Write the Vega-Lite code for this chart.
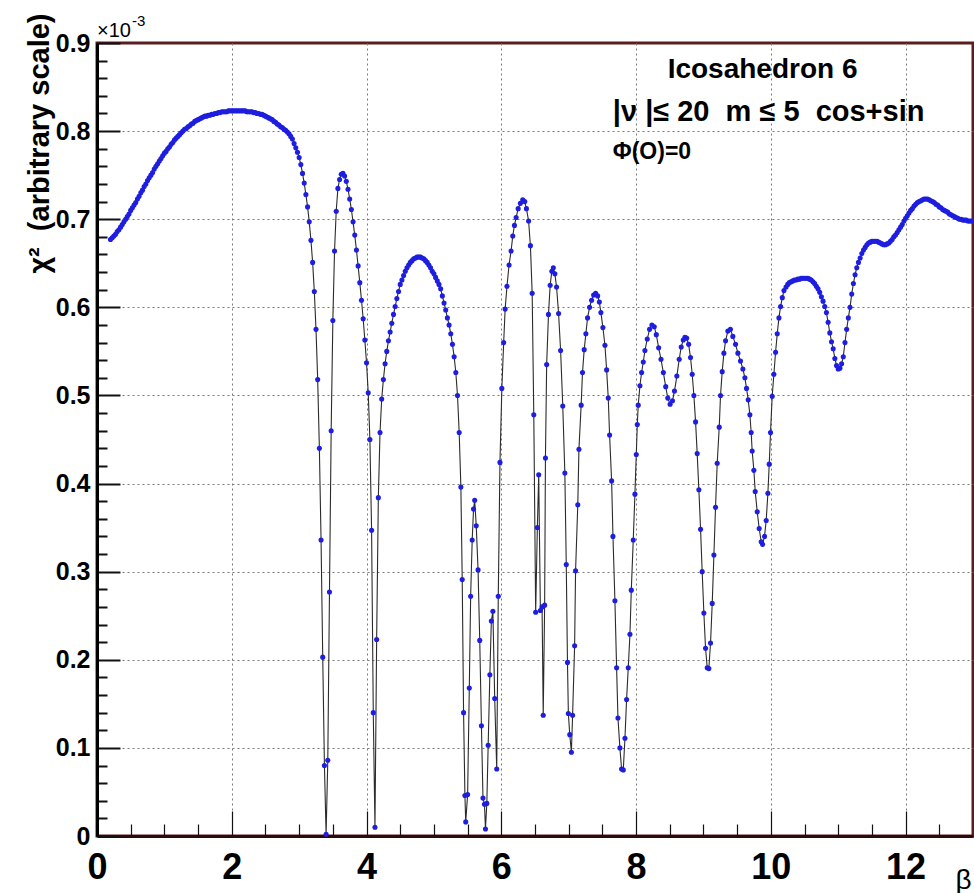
{
"$schema":"https://vega.github.io/schema/vega-lite/v6.json",
"width":876,"height":793,
"autosize":{"type":"none"},
"padding":{"left":97,"top":43,"right":1,"bottom":57},
"background":"white",
"config":{"view":{"stroke":"#5b1e1e","strokeWidth":3},"font":"Liberation Sans"},
"data":{"values":[
{"b":0.2,"c":0.677},{"b":0.225,"c":0.679},{"b":0.25,"c":0.681},{"b":0.275,"c":0.683},{"b":0.3,"c":0.686},{"b":0.325,"c":0.688},{"b":0.35,"c":0.691},{"b":0.375,"c":0.694},{"b":0.4,"c":0.697},{"b":0.425,"c":0.7},{"b":0.45,"c":0.703},{"b":0.475,"c":0.706},{"b":0.5,"c":0.71},{"b":0.525,"c":0.713},{"b":0.55,"c":0.716},{"b":0.575,"c":0.719},{"b":0.6,"c":0.723},{"b":0.625,"c":0.726},{"b":0.65,"c":0.73},{"b":0.675,"c":0.733},{"b":0.7,"c":0.737},{"b":0.725,"c":0.74},{"b":0.75,"c":0.744},{"b":0.775,"c":0.747},{"b":0.8,"c":0.75},{"b":0.825,"c":0.753},{"b":0.85,"c":0.757},{"b":0.875,"c":0.76},{"b":0.9,"c":0.763},{"b":0.925,"c":0.766},{"b":0.95,"c":0.769},{"b":0.975,"c":0.772},{"b":1.0,"c":0.775},{"b":1.025,"c":0.777},{"b":1.05,"c":0.78},{"b":1.075,"c":0.782},{"b":1.1,"c":0.785},{"b":1.125,"c":0.787},{"b":1.15,"c":0.79},{"b":1.175,"c":0.792},{"b":1.2,"c":0.794},{"b":1.225,"c":0.796},{"b":1.25,"c":0.798},{"b":1.275,"c":0.8},{"b":1.3,"c":0.802},{"b":1.325,"c":0.803},{"b":1.35,"c":0.805},{"b":1.375,"c":0.806},{"b":1.4,"c":0.808},{"b":1.425,"c":0.809},{"b":1.45,"c":0.811},{"b":1.475,"c":0.812},{"b":1.5,"c":0.813},{"b":1.525,"c":0.814},{"b":1.55,"c":0.815},{"b":1.575,"c":0.816},{"b":1.6,"c":0.817},{"b":1.625,"c":0.817},{"b":1.65,"c":0.818},{"b":1.675,"c":0.818},{"b":1.7,"c":0.819},{"b":1.725,"c":0.819},{"b":1.75,"c":0.82},{"b":1.775,"c":0.82},{"b":1.8,"c":0.821},{"b":1.825,"c":0.821},{"b":1.85,"c":0.822},{"b":1.875,"c":0.822},{"b":1.9,"c":0.822},{"b":1.925,"c":0.822},{"b":1.95,"c":0.823},{"b":1.975,"c":0.823},{"b":2.0,"c":0.823},{"b":2.025,"c":0.823},{"b":2.05,"c":0.823},{"b":2.075,"c":0.823},{"b":2.1,"c":0.823},{"b":2.125,"c":0.823},{"b":2.15,"c":0.823},{"b":2.175,"c":0.823},{"b":2.2,"c":0.823},{"b":2.225,"c":0.822},{"b":2.25,"c":0.822},{"b":2.275,"c":0.822},{"b":2.3,"c":0.822},{"b":2.325,"c":0.821},{"b":2.35,"c":0.821},{"b":2.375,"c":0.82},{"b":2.4,"c":0.82},{"b":2.425,"c":0.819},{"b":2.45,"c":0.819},{"b":2.475,"c":0.818},{"b":2.5,"c":0.817},{"b":2.525,"c":0.816},{"b":2.55,"c":0.815},{"b":2.575,"c":0.814},{"b":2.6,"c":0.813},{"b":2.625,"c":0.811},{"b":2.65,"c":0.81},{"b":2.675,"c":0.808},{"b":2.7,"c":0.807},{"b":2.725,"c":0.805},{"b":2.75,"c":0.804},{"b":2.775,"c":0.802},{"b":2.8,"c":0.801},{"b":2.825,"c":0.799},{"b":2.85,"c":0.797},{"b":2.875,"c":0.794},{"b":2.9,"c":0.791},
{"b":2.925,"c":0.786},{"b":2.95,"c":0.781},{"b":2.975,"c":0.776},{"b":3.0,"c":0.77},{"b":3.025,"c":0.762},{"b":3.05,"c":0.752},{"b":3.075,"c":0.741},{"b":3.1,"c":0.728},{"b":3.125,"c":0.714},{"b":3.15,"c":0.697},{"b":3.175,"c":0.676},{"b":3.2,"c":0.651},{"b":3.225,"c":0.618},{"b":3.25,"c":0.575},{"b":3.275,"c":0.518},{"b":3.3,"c":0.44},{"b":3.325,"c":0.336},{"b":3.35,"c":0.203},{"b":3.375,"c":0.08},{"b":3.4,"c":0.002},
{"b":3.425,"c":0.086},{"b":3.45,"c":0.277},{"b":3.475,"c":0.46},{"b":3.5,"c":0.585},{"b":3.525,"c":0.664},{"b":3.55,"c":0.709},{"b":3.575,"c":0.735},{"b":3.6,"c":0.745},{"b":3.625,"c":0.751},{"b":3.65,"c":0.752},{"b":3.675,"c":0.749},{"b":3.7,"c":0.743},{"b":3.725,"c":0.734},{"b":3.75,"c":0.723},{"b":3.775,"c":0.711},{"b":3.8,"c":0.697},{"b":3.825,"c":0.682},{"b":3.85,"c":0.665},{"b":3.875,"c":0.647},{"b":3.9,"c":0.628},{"b":3.925,"c":0.608},{"b":3.95,"c":0.587},{"b":3.975,"c":0.563},{"b":4.0,"c":0.537},{"b":4.025,"c":0.503},{"b":4.05,"c":0.45},{"b":4.075,"c":0.347},{"b":4.1,"c":0.14},{"b":4.125,"c":0.01},
{"b":4.15,"c":0.223},{"b":4.175,"c":0.384},{"b":4.2,"c":0.458},{"b":4.225,"c":0.496},{"b":4.25,"c":0.518},{"b":4.275,"c":0.536},{"b":4.3,"c":0.55},{"b":4.325,"c":0.562},{"b":4.35,"c":0.572},{"b":4.375,"c":0.582},{"b":4.4,"c":0.592},{"b":4.425,"c":0.601},{"b":4.45,"c":0.61},{"b":4.475,"c":0.618},{"b":4.5,"c":0.626},{"b":4.525,"c":0.631},{"b":4.55,"c":0.636},{"b":4.575,"c":0.641},{"b":4.6,"c":0.645},{"b":4.625,"c":0.648},{"b":4.65,"c":0.651},{"b":4.675,"c":0.653},{"b":4.7,"c":0.655},{"b":4.725,"c":0.656},{"b":4.75,"c":0.657},{"b":4.775,"c":0.657},{"b":4.8,"c":0.657},{"b":4.825,"c":0.656},{"b":4.85,"c":0.655},{"b":4.875,"c":0.653},{"b":4.9,"c":0.651},{"b":4.925,"c":0.648},{"b":4.95,"c":0.645},{"b":4.975,"c":0.641},{"b":5.0,"c":0.638},{"b":5.025,"c":0.634},{"b":5.05,"c":0.63},{"b":5.075,"c":0.626},{"b":5.1,"c":0.621},{"b":5.125,"c":0.613},{"b":5.15,"c":0.605},{"b":5.175,"c":0.597},{"b":5.2,"c":0.588},{"b":5.225,"c":0.58},{"b":5.25,"c":0.57},{"b":5.275,"c":0.558},{"b":5.3,"c":0.544},{"b":5.325,"c":0.526},{"b":5.35,"c":0.5},{"b":5.375,"c":0.458},{"b":5.4,"c":0.396},{"b":5.42,"c":0.291},{"b":5.44,"c":0.14},{"b":5.46,"c":0.046},{"b":5.472,"c":0.016},
{"b":5.5,"c":0.047},{"b":5.525,"c":0.168},{"b":5.545,"c":0.272},{"b":5.568,"c":0.336},{"b":5.588,"c":0.371},{"b":5.605,"c":0.381},{"b":5.628,"c":0.352},{"b":5.655,"c":0.302},{"b":5.68,"c":0.222},{"b":5.705,"c":0.125},{"b":5.728,"c":0.043},{"b":5.75,"c":0.036},{"b":5.765,"c":0.008},{"b":5.785,"c":0.037},{"b":5.805,"c":0.103},{"b":5.83,"c":0.183},{"b":5.852,"c":0.244},{"b":5.875,"c":0.255},{"b":5.902,"c":0.156},{"b":5.932,"c":0.076},
{"b":5.955,"c":0.272},{"b":5.98,"c":0.424},{"b":6.008,"c":0.508},{"b":6.035,"c":0.56},{"b":6.057,"c":0.598},{"b":6.084,"c":0.624},{"b":6.115,"c":0.648},{"b":6.145,"c":0.664},{"b":6.17,"c":0.681},{"b":6.195,"c":0.693},{"b":6.22,"c":0.702},{"b":6.25,"c":0.712},{"b":6.283,"c":0.718},{"b":6.318,"c":0.722},{"b":6.348,"c":0.72},{"b":6.373,"c":0.712},{"b":6.405,"c":0.698},{"b":6.432,"c":0.67},{"b":6.458,"c":0.616},{"b":6.482,"c":0.478},
{"b":6.51,"c":0.254},{"b":6.535,"c":0.35},{"b":6.555,"c":0.41},{"b":6.58,"c":0.256},{"b":6.605,"c":0.26},{"b":6.622,"c":0.137},{"b":6.643,"c":0.262},{"b":6.655,"c":0.429},{"b":6.673,"c":0.535},{"b":6.7,"c":0.592},{"b":6.725,"c":0.625},{"b":6.75,"c":0.641},{"b":6.772,"c":0.645},{"b":6.795,"c":0.638},{"b":6.82,"c":0.623},{"b":6.85,"c":0.593},{"b":6.88,"c":0.551},{"b":6.912,"c":0.488},{"b":6.943,"c":0.412},{"b":6.964,"c":0.308},{"b":6.982,"c":0.197},{"b":6.995,"c":0.139},{"b":7.016,"c":0.115},{"b":7.04,"c":0.095},{"b":7.058,"c":0.137},{"b":7.088,"c":0.216},{"b":7.102,"c":0.301},{"b":7.135,"c":0.376},{"b":7.152,"c":0.439},{"b":7.185,"c":0.489},{"b":7.205,"c":0.526},{"b":7.23,"c":0.552},{"b":7.255,"c":0.57},{"b":7.28,"c":0.588},{"b":7.31,"c":0.6},{"b":7.34,"c":0.608},{"b":7.37,"c":0.614},{"b":7.4,"c":0.616},{"b":7.43,"c":0.613},{"b":7.455,"c":0.606},{"b":7.478,"c":0.594},{"b":7.508,"c":0.577},{"b":7.538,"c":0.557},{"b":7.563,"c":0.529},{"b":7.587,"c":0.497},{"b":7.607,"c":0.455},{"b":7.637,"c":0.403},{"b":7.657,"c":0.34},{"b":7.686,"c":0.267},{"b":7.711,"c":0.191},{"b":7.731,"c":0.134},{"b":7.76,"c":0.1},{"b":7.785,"c":0.076},{"b":7.81,"c":0.075},{"b":7.835,"c":0.111},{"b":7.859,"c":0.155},{"b":7.884,"c":0.191},{"b":7.909,"c":0.229},{"b":7.929,"c":0.279},{"b":7.958,"c":0.336},{"b":7.983,"c":0.388},{"b":8.003,"c":0.433},{"b":8.018,"c":0.467},{"b":8.032,"c":0.489},{"b":8.057,"c":0.511},{"b":8.082,"c":0.526},{"b":8.107,"c":0.538},{"b":8.131,"c":0.551},{"b":8.166,"c":0.564},{"b":8.2,"c":0.575},{"b":8.235,"c":0.58},{"b":8.27,"c":0.578},{"b":8.3,"c":0.569},{"b":8.335,"c":0.554},{"b":8.37,"c":0.541},{"b":8.405,"c":0.526},{"b":8.44,"c":0.51},{"b":8.47,"c":0.497},{"b":8.505,"c":0.49},{"b":8.54,"c":0.494},{"b":8.57,"c":0.505},{"b":8.605,"c":0.522},{"b":8.64,"c":0.541},{"b":8.67,"c":0.555},{"b":8.7,"c":0.563},{"b":8.725,"c":0.566},{"b":8.75,"c":0.565},{"b":8.78,"c":0.558},{"b":8.808,"c":0.543},{"b":8.833,"c":0.524},{"b":8.858,"c":0.5},{"b":8.883,"c":0.47},{"b":8.907,"c":0.434},{"b":8.932,"c":0.393},{"b":8.957,"c":0.348},{"b":8.981,"c":0.3},{"b":9.006,"c":0.253},{"b":9.031,"c":0.213},{"b":9.056,"c":0.191},{"b":9.08,"c":0.19},{"b":9.105,"c":0.219},{"b":9.13,"c":0.264},{"b":9.155,"c":0.319},{"b":9.179,"c":0.373},{"b":9.204,"c":0.423},{"b":9.234,"c":0.464},{"b":9.253,"c":0.5},{"b":9.278,"c":0.527},{"b":9.303,"c":0.548},{"b":9.328,"c":0.562},{"b":9.362,"c":0.573},{"b":9.4,"c":0.575},{"b":9.436,"c":0.567},{"b":9.476,"c":0.558},{"b":9.511,"c":0.548},{"b":9.55,"c":0.539},{"b":9.585,"c":0.53},{"b":9.615,"c":0.52},{"b":9.639,"c":0.508},{"b":9.664,"c":0.495},{"b":9.689,"c":0.478},{"b":9.708,"c":0.458},{"b":9.723,"c":0.437},{"b":9.748,"c":0.415},{"b":9.768,"c":0.391},{"b":9.798,"c":0.368},{"b":9.827,"c":0.349},{"b":9.857,"c":0.334},{"b":9.877,"c":0.331},{"b":9.906,"c":0.34},{"b":9.931,"c":0.358},{"b":9.956,"c":0.389},{"b":9.976,"c":0.422},{"b":9.995,"c":0.458},{"b":10.02,"c":0.499},{"b":10.045,"c":0.524},{"b":10.07,"c":0.549},{"b":10.095,"c":0.57},{"b":10.12,"c":0.588},{"b":10.145,"c":0.601},{"b":10.17,"c":0.611},{"b":10.195,"c":0.619},
{"b":10.225,"c":0.623},{"b":10.25,"c":0.626},{"b":10.275,"c":0.628},{"b":10.3,"c":0.629},{"b":10.325,"c":0.63},{"b":10.35,"c":0.631},{"b":10.375,"c":0.631},{"b":10.4,"c":0.632},{"b":10.425,"c":0.632},{"b":10.45,"c":0.633},{"b":10.475,"c":0.633},{"b":10.5,"c":0.633},{"b":10.525,"c":0.633},{"b":10.55,"c":0.633},{"b":10.575,"c":0.632},{"b":10.6,"c":0.631},{"b":10.625,"c":0.629},{"b":10.65,"c":0.627},{"b":10.675,"c":0.624},{"b":10.7,"c":0.621},{"b":10.725,"c":0.617},{"b":10.75,"c":0.612},{"b":10.775,"c":0.607},{"b":10.8,"c":0.601},{"b":10.825,"c":0.594},{"b":10.85,"c":0.583},{"b":10.875,"c":0.571},{"b":10.9,"c":0.561},{"b":10.925,"c":0.553},{"b":10.95,"c":0.542},{"b":10.975,"c":0.534},{"b":11.0,"c":0.53},{"b":11.025,"c":0.531},{"b":11.05,"c":0.536},{"b":11.075,"c":0.544},{"b":11.1,"c":0.56},{"b":11.125,"c":0.575},{"b":11.15,"c":0.588},{"b":11.175,"c":0.6},{"b":11.2,"c":0.615},{"b":11.225,"c":0.627},{"b":11.25,"c":0.637},{"b":11.275,"c":0.645},{"b":11.3,"c":0.651},{"b":11.325,"c":0.656},{"b":11.35,"c":0.661},{"b":11.375,"c":0.665},{"b":11.4,"c":0.668},{"b":11.425,"c":0.671},{"b":11.45,"c":0.673},{"b":11.475,"c":0.674},{"b":11.5,"c":0.675},{"b":11.525,"c":0.675},{"b":11.55,"c":0.675},{"b":11.575,"c":0.675},{"b":11.6,"c":0.674},{"b":11.625,"c":0.673},{"b":11.65,"c":0.672},{"b":11.675,"c":0.671},{"b":11.7,"c":0.671},{"b":11.725,"c":0.672},{"b":11.75,"c":0.673},{"b":11.775,"c":0.675},{"b":11.8,"c":0.677},{"b":11.825,"c":0.68},{"b":11.85,"c":0.682},{"b":11.875,"c":0.685},{"b":11.9,"c":0.688},{"b":11.925,"c":0.691},{"b":11.95,"c":0.694},{"b":11.975,"c":0.698},{"b":12.0,"c":0.701},{"b":12.025,"c":0.704},{"b":12.05,"c":0.707},{"b":12.075,"c":0.71},{"b":12.1,"c":0.712},{"b":12.125,"c":0.715},{"b":12.15,"c":0.717},{"b":12.175,"c":0.719},{"b":12.2,"c":0.72},{"b":12.225,"c":0.721},{"b":12.25,"c":0.722},{"b":12.275,"c":0.723},{"b":12.3,"c":0.723},{"b":12.325,"c":0.723},{"b":12.35,"c":0.722},{"b":12.375,"c":0.721},{"b":12.4,"c":0.72},{"b":12.425,"c":0.719},{"b":12.45,"c":0.717},{"b":12.475,"c":0.716},{"b":12.5,"c":0.714},{"b":12.525,"c":0.713},{"b":12.55,"c":0.711},{"b":12.575,"c":0.71},{"b":12.6,"c":0.709},{"b":12.625,"c":0.708},{"b":12.65,"c":0.706},{"b":12.675,"c":0.705},{"b":12.7,"c":0.704},{"b":12.725,"c":0.703},{"b":12.75,"c":0.702},{"b":12.775,"c":0.701},{"b":12.8,"c":0.7},{"b":12.825,"c":0.7},{"b":12.85,"c":0.699},{"b":12.875,"c":0.699},{"b":12.9,"c":0.699},{"b":12.925,"c":0.698},{"b":12.95,"c":0.698},{"b":12.975,"c":0.698},{"b":13.0,"c":0.698}
]},
"encoding":{
"x":{"field":"b","type":"quantitative","scale":{"domain":[0,13],"nice":false,"zero":false},
"axis":{"values":[0,0.5,1,1.5,2,2.5,3,3.5,4,4.5,5,5.5,6,6.5,7,7.5,8,8.5,9,9.5,10,10.5,11,11.5,12,12.5],
"labelExpr":"datum.value % 2 === 0 ? format(datum.value, 'd') : ''","labelFont":"Liberation Sans","labelFontSize":36,"labelFontWeight":"bold","labelColor":"black","labelPadding":39,"labelFlush":false,"labelOverlap":false,"labelBound":false,
"tickSize":{"condition":{"test":"datum.value % 2 === 0","value":-25},"value":-12},"tickColor":"#111111","tickWidth":1.2,
"domainColor":"#2a0a0a","domainWidth":3,
"grid":true,"gridDash":[2,3],"gridColor":"#7a7a7a","gridWidth":1,"gridOpacity":{"condition":{"test":"datum.value % 2 === 0 && datum.value > 0","value":1},"value":0},
"title":"β","titleFont":"Liberation Sans","titleFontSize":28,"titleFontWeight":"normal","titleColor":"black","titleX":866,"titleY":52,"titleAlign":"center","titleBaseline":"alphabetic"}},
"y":{"field":"c","type":"quantitative","scale":{"domain":[0,0.9],"nice":false,"zero":false},
"axis":{"values":[0,0.02,0.04,0.06,0.08,0.1,0.12,0.14,0.16,0.18,0.2,0.22,0.24,0.26,0.28,0.3,0.32,0.34,0.36,0.38,0.4,0.42,0.44,0.46,0.48,0.5,0.52,0.54,0.56,0.58,0.6,0.62,0.64,0.66,0.68,0.7,0.72,0.74,0.76,0.78,0.8,0.82,0.84,0.86,0.88,0.9],
"labelExpr":"datum.value === 0 ? '0' : (abs(datum.value*10 - round(datum.value*10)) < 0.001 ? format(datum.value, '.1f') : '')","labelFont":"Liberation Sans","labelFontSize":25,"labelFontWeight":"bold","labelColor":"black","labelPadding":30,"labelFlush":false,"labelOverlap":false,"labelBound":false,
"tickSize":{"condition":{"test":"abs(datum.value*10 - round(datum.value*10)) < 0.001","value":-23},"value":-10},"tickColor":"#111111","tickWidth":2,
"domainColor":"black","domainWidth":3,
"grid":true,"gridDash":[2,3],"gridColor":"#7a7a7a","gridWidth":1,"gridOpacity":{"condition":{"test":"abs(datum.value*10 - round(datum.value*10)) < 0.001 && datum.value > 0.001 && datum.value < 0.899","value":1},"value":0},
"title":"χ²\u00a0 (arbitrary scale)","titleFont":"Liberation Sans","titleFontSize":29,"titleFontWeight":"bold","titleColor":"black","titleAngle":-90,"titleX":-58,"titleY":-30,"titleAlign":"right","titleBaseline":"middle"}}
},
"layer":[
{"mark":{"type":"line","color":"#2b2b2b","strokeWidth":1.1},"encoding":{}},
{"mark":{"type":"point","filled":true,"size":26,"color":"#1e1ee0","opacity":1,"strokeWidth":0}},
{"data":{"values":[{"b":9.877,"c":0.8695,"t":"Icosahedron 6"}]},"mark":{"type":"text","fontSize":28,"fontWeight":"bold","align":"center","baseline":"middle","font":"Liberation Sans","color":"black"},"encoding":{"text":{"field":"t"}}},
{"data":{"values":[{"b":7.655,"c":0.8218,"t":"|ν |≤ 20\u00a0 m ≤ 5\u00a0 cos+sin"}]},"mark":{"type":"text","fontSize":29,"fontWeight":"bold","align":"left","baseline":"middle","font":"Liberation Sans","color":"black"},"encoding":{"text":{"field":"t"}}},
{"data":{"values":[{"b":7.655,"c":0.7764,"t":"Φ(O)=0"}]},"mark":{"type":"text","fontSize":23,"fontWeight":"bold","align":"left","baseline":"middle","font":"Liberation Sans","color":"black"},"encoding":{"text":{"field":"t"}}},
{"data":{"values":[{"b":0,"c":0.9,"t":"×10"}]},"mark":{"type":"text","fontSize":20,"fontWeight":"normal","align":"left","baseline":"alphabetic","dy":-6,"font":"Liberation Sans","color":"black"},"encoding":{"text":{"field":"t"}}},
{"data":{"values":[{"b":0,"c":0.9,"t":"-3"}]},"mark":{"type":"text","fontSize":15,"fontWeight":"normal","align":"left","baseline":"alphabetic","dx":35,"dy":-17,"font":"Liberation Sans","color":"black"},"encoding":{"text":{"field":"t"}}}
]
}
